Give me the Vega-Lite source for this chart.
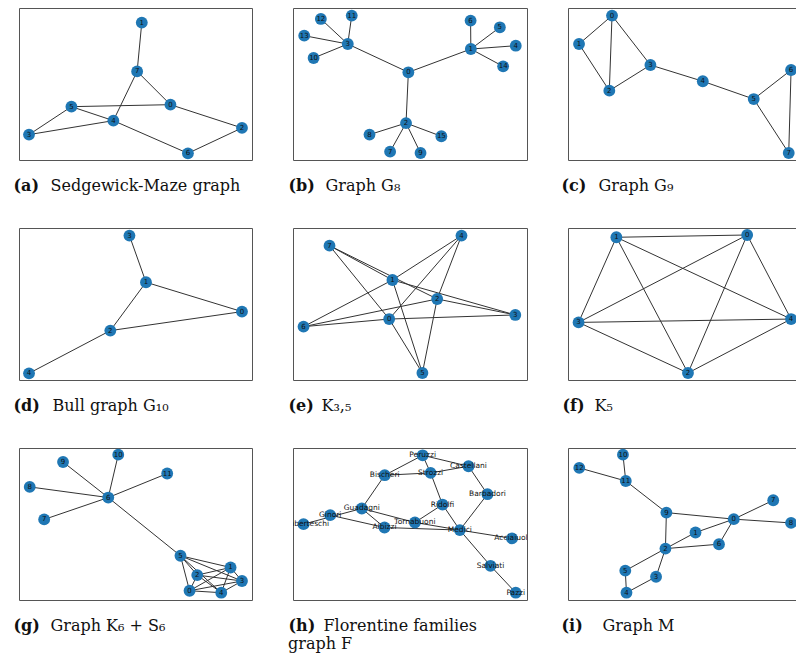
{
  "$schema": "https://vega.github.io/schema/vega-lite/v6.json",
  "background": "white",
  "padding": {"left": 12, "top": 7, "right": 0, "bottom": 0},
  "bounds": "flush",
  "columns": 3,
  "spacing": {"row": 68, "column": 41},
  "datasets": {
    "a_nodes": [
      {"id": "0", "x": 65.0, "y": 36.4}, {"id": "1", "x": 52.7, "y": 90.4},
      {"id": "2", "x": 95.7, "y": 21.1}, {"id": "3", "x": 4.3, "y": 16.7},
      {"id": "4", "x": 40.5, "y": 25.9}, {"id": "5", "x": 22.5, "y": 35.1},
      {"id": "6", "x": 72.5, "y": 4.4}, {"id": "7", "x": 50.7, "y": 58.3}
    ],
    "a_edges": [
      {"s": "1", "t": "7"}, {"s": "7", "t": "0"}, {"s": "7", "t": "4"}, {"s": "0", "t": "5"},
      {"s": "0", "t": "2"}, {"s": "5", "t": "4"}, {"s": "5", "t": "3"}, {"s": "3", "t": "4"},
      {"s": "4", "t": "6"}, {"s": "6", "t": "2"}
    ],
    "b_nodes": [
      {"id": "0", "x": 49.3, "y": 57.7}, {"id": "1", "x": 76.0, "y": 73.0},
      {"id": "2", "x": 48.3, "y": 24.3}, {"id": "3", "x": 23.4, "y": 76.3},
      {"id": "4", "x": 95.2, "y": 75.2}, {"id": "5", "x": 88.4, "y": 87.3},
      {"id": "6", "x": 75.9, "y": 91.7}, {"id": "7", "x": 41.5, "y": 5.5},
      {"id": "8", "x": 32.7, "y": 16.7}, {"id": "9", "x": 54.5, "y": 4.6},
      {"id": "10", "x": 8.8, "y": 67.1}, {"id": "11", "x": 25.1, "y": 95.0},
      {"id": "12", "x": 11.9, "y": 92.8}, {"id": "13", "x": 4.8, "y": 81.8},
      {"id": "14", "x": 89.8, "y": 61.6}, {"id": "15", "x": 63.4, "y": 15.6}
    ],
    "b_edges": [
      {"s": "0", "t": "1"}, {"s": "0", "t": "2"}, {"s": "0", "t": "3"},
      {"s": "3", "t": "10"}, {"s": "3", "t": "11"}, {"s": "3", "t": "12"}, {"s": "3", "t": "13"},
      {"s": "1", "t": "4"}, {"s": "1", "t": "5"}, {"s": "1", "t": "6"}, {"s": "1", "t": "14"},
      {"s": "2", "t": "7"}, {"s": "2", "t": "8"}, {"s": "2", "t": "9"}, {"s": "2", "t": "15"}
    ],
    "c_nodes": [
      {"id": "0", "x": 18.75, "y": 95.0}, {"id": "1", "x": 4.7, "y": 76.3},
      {"id": "2", "x": 17.6, "y": 45.6}, {"id": "3", "x": 35.1, "y": 62.5},
      {"id": "4", "x": 57.4, "y": 51.8}, {"id": "5", "x": 79.1, "y": 40.1},
      {"id": "6", "x": 95.0, "y": 59.2}, {"id": "7", "x": 94.0, "y": 4.6}
    ],
    "c_edges": [
      {"s": "0", "t": "1"}, {"s": "0", "t": "2"}, {"s": "1", "t": "2"}, {"s": "0", "t": "3"},
      {"s": "2", "t": "3"}, {"s": "3", "t": "4"}, {"s": "4", "t": "5"}, {"s": "5", "t": "6"},
      {"s": "5", "t": "7"}, {"s": "6", "t": "7"}
    ],
    "d_nodes": [
      {"id": "0", "x": 95.7, "y": 45.0}, {"id": "1", "x": 54.5, "y": 64.3},
      {"id": "2", "x": 39.2, "y": 32.5}, {"id": "3", "x": 47.4, "y": 95.0},
      {"id": "4", "x": 4.3, "y": 4.4}
    ],
    "d_edges": [
      {"s": "3", "t": "1"}, {"s": "1", "t": "0"}, {"s": "1", "t": "2"}, {"s": "2", "t": "0"},
      {"s": "2", "t": "4"}
    ],
    "e_nodes": [
      {"id": "0", "x": 41.1, "y": 40.1}, {"id": "1", "x": 42.5, "y": 65.8},
      {"id": "2", "x": 61.6, "y": 53.3}, {"id": "3", "x": 95.0, "y": 42.8},
      {"id": "4", "x": 72.0, "y": 95.0}, {"id": "5", "x": 55.3, "y": 4.6},
      {"id": "6", "x": 4.5, "y": 35.1}, {"id": "7", "x": 15.6, "y": 88.4}
    ],
    "e_edges": [
      {"s": "0", "t": "3"}, {"s": "0", "t": "4"}, {"s": "0", "t": "5"}, {"s": "0", "t": "6"}, {"s": "0", "t": "7"},
      {"s": "1", "t": "3"}, {"s": "1", "t": "4"}, {"s": "1", "t": "5"}, {"s": "1", "t": "6"}, {"s": "1", "t": "7"},
      {"s": "2", "t": "3"}, {"s": "2", "t": "4"}, {"s": "2", "t": "5"}, {"s": "2", "t": "6"}, {"s": "2", "t": "7"}
    ],
    "f_nodes": [
      {"id": "0", "x": 76.3, "y": 95.4}, {"id": "1", "x": 20.6, "y": 93.9},
      {"id": "2", "x": 51.1, "y": 4.6}, {"id": "3", "x": 4.5, "y": 37.9},
      {"id": "4", "x": 95.0, "y": 40.1}
    ],
    "f_edges": [
      {"s": "0", "t": "1"}, {"s": "0", "t": "2"}, {"s": "0", "t": "3"}, {"s": "0", "t": "4"},
      {"s": "1", "t": "2"}, {"s": "1", "t": "3"}, {"s": "1", "t": "4"},
      {"s": "2", "t": "3"}, {"s": "2", "t": "4"}, {"s": "3", "t": "4"}
    ],
    "g_nodes": [
      {"id": "0", "x": 73.2, "y": 6.1}, {"id": "1", "x": 90.8, "y": 21.4},
      {"id": "2", "x": 76.5, "y": 16.4}, {"id": "3", "x": 95.7, "y": 12.5},
      {"id": "4", "x": 86.8, "y": 4.8}, {"id": "5", "x": 69.3, "y": 29.1},
      {"id": "6", "x": 38.3, "y": 67.4}, {"id": "7", "x": 10.8, "y": 53.0},
      {"id": "8", "x": 4.6, "y": 74.4}, {"id": "9", "x": 18.9, "y": 90.8},
      {"id": "10", "x": 42.6, "y": 95.6}, {"id": "11", "x": 63.6, "y": 83.2}
    ],
    "g_edges": [
      {"s": "6", "t": "5"}, {"s": "6", "t": "7"}, {"s": "6", "t": "8"}, {"s": "6", "t": "9"},
      {"s": "6", "t": "10"}, {"s": "6", "t": "11"},
      {"s": "0", "t": "1"}, {"s": "0", "t": "2"}, {"s": "0", "t": "3"}, {"s": "0", "t": "4"}, {"s": "0", "t": "5"},
      {"s": "1", "t": "2"}, {"s": "1", "t": "3"}, {"s": "1", "t": "4"}, {"s": "1", "t": "5"},
      {"s": "2", "t": "3"}, {"s": "2", "t": "4"}, {"s": "2", "t": "5"},
      {"s": "3", "t": "4"}, {"s": "3", "t": "5"}, {"s": "4", "t": "5"}
    ],
    "h_nodes": [
      {"id": "Peruzzi", "x": 55.4, "y": 95.2}, {"id": "Castellani", "x": 75.0, "y": 88.0},
      {"id": "Bischeri", "x": 39.2, "y": 82.1}, {"id": "Strozzi", "x": 58.8, "y": 83.6},
      {"id": "Barbadori", "x": 83.1, "y": 69.6}, {"id": "Ridolfi", "x": 63.9, "y": 62.8},
      {"id": "Guadagni", "x": 29.4, "y": 60.2}, {"id": "Ginori", "x": 15.9, "y": 55.8},
      {"id": "Lamberteschi", "x": 4.5, "y": 49.9}, {"id": "Tornabuoni", "x": 52.1, "y": 51.0},
      {"id": "Albizzi", "x": 39.1, "y": 47.7}, {"id": "Medici", "x": 71.3, "y": 46.0},
      {"id": "Acciaiuoli", "x": 93.6, "y": 40.5}, {"id": "Salviati", "x": 84.4, "y": 22.5},
      {"id": "Pazzi", "x": 95.2, "y": 4.8}
    ],
    "h_edges": [
      {"s": "Acciaiuoli", "t": "Medici"}, {"s": "Castellani", "t": "Peruzzi"},
      {"s": "Castellani", "t": "Strozzi"}, {"s": "Castellani", "t": "Barbadori"},
      {"s": "Medici", "t": "Barbadori"}, {"s": "Medici", "t": "Ridolfi"},
      {"s": "Medici", "t": "Tornabuoni"}, {"s": "Medici", "t": "Albizzi"},
      {"s": "Medici", "t": "Salviati"}, {"s": "Salviati", "t": "Pazzi"},
      {"s": "Peruzzi", "t": "Strozzi"}, {"s": "Peruzzi", "t": "Bischeri"},
      {"s": "Strozzi", "t": "Ridolfi"}, {"s": "Strozzi", "t": "Bischeri"},
      {"s": "Ridolfi", "t": "Tornabuoni"}, {"s": "Tornabuoni", "t": "Guadagni"},
      {"s": "Albizzi", "t": "Ginori"}, {"s": "Albizzi", "t": "Guadagni"},
      {"s": "Bischeri", "t": "Guadagni"}, {"s": "Guadagni", "t": "Lamberteschi"}
    ],
    "i_nodes": [
      {"id": "0", "x": 70.6, "y": 53.2}, {"id": "1", "x": 54.3, "y": 44.4},
      {"id": "2", "x": 41.5, "y": 33.8}, {"id": "3", "x": 37.5, "y": 15.3},
      {"id": "4", "x": 24.9, "y": 4.8}, {"id": "5", "x": 24.4, "y": 19.3},
      {"id": "6", "x": 64.3, "y": 36.7}, {"id": "7", "x": 87.4, "y": 65.6},
      {"id": "8", "x": 95.0, "y": 50.7}, {"id": "9", "x": 41.9, "y": 57.5},
      {"id": "10", "x": 23.4, "y": 95.6}, {"id": "11", "x": 24.6, "y": 78.3},
      {"id": "12", "x": 4.8, "y": 86.9}
    ],
    "i_edges": [
      {"s": "10", "t": "11"}, {"s": "12", "t": "11"}, {"s": "11", "t": "9"}, {"s": "9", "t": "0"},
      {"s": "9", "t": "2"}, {"s": "0", "t": "7"}, {"s": "0", "t": "8"}, {"s": "0", "t": "1"},
      {"s": "0", "t": "6"}, {"s": "1", "t": "2"}, {"s": "2", "t": "6"}, {"s": "2", "t": "5"},
      {"s": "2", "t": "3"}, {"s": "3", "t": "4"}, {"s": "4", "t": "5"}
    ]
  },
  "concat": [
    {
      "width": 233, "height": 152,
      "encoding": {
        "x": {"field": "x", "type": "quantitative", "scale": {"domain": [0, 100]}, "axis": {"title": "(a)"}},
        "y": {"field": "y", "type": "quantitative", "scale": {"domain": [0, 100]}, "axis": {"title": "Sedgewick-Maze graph", "titleX": 31}}
      },
      "layer": [
        {
          "data": {"name": "a_edges"},
          "transform": [
            {"lookup": "s", "from": {"data": {"name": "a_nodes"}, "key": "id", "fields": ["x", "y"]}},
            {"lookup": "t", "from": {"data": {"name": "a_nodes"}, "key": "id", "fields": ["x", "y"]}, "as": ["x2v", "y2v"]}
          ],
          "mark": {"type": "rule", "color": "#333333", "strokeWidth": 1},
          "encoding": {"x2": {"field": "x2v"}, "y2": {"field": "y2v"}}
        },
        {"data": {"name": "a_nodes"}, "mark": {"type": "circle", "size": 140, "color": "#1f77b4", "opacity": 1}},
        {"data": {"name": "a_nodes"}, "mark": {"type": "text", "fontSize": 7, "font": "DejaVu Sans", "color": "#111"}, "encoding": {"text": {"field": "id"}}}
      ]
    },
    {
      "width": 234, "height": 152,
      "encoding": {
        "x": {"field": "x", "type": "quantitative", "scale": {"domain": [0, 100]}, "axis": {"title": "(b)", "titleX": -5}},
        "y": {"field": "y", "type": "quantitative", "scale": {"domain": [0, 100]}, "axis": {"title": "Graph G₈", "titleX": 32}}
      },
      "layer": [
        {
          "data": {"name": "b_edges"},
          "transform": [
            {"lookup": "s", "from": {"data": {"name": "b_nodes"}, "key": "id", "fields": ["x", "y"]}},
            {"lookup": "t", "from": {"data": {"name": "b_nodes"}, "key": "id", "fields": ["x", "y"]}, "as": ["x2v", "y2v"]}
          ],
          "mark": {"type": "rule", "color": "#333333", "strokeWidth": 1},
          "encoding": {"x2": {"field": "x2v"}, "y2": {"field": "y2v"}}
        },
        {"data": {"name": "b_nodes"}, "mark": {"type": "circle", "size": 140, "color": "#1f77b4", "opacity": 1}},
        {"data": {"name": "b_nodes"}, "mark": {"type": "text", "fontSize": 7, "font": "DejaVu Sans", "color": "#111"}, "encoding": {"text": {"field": "id"}}}
      ]
    },
    {
      "width": 228, "height": 152,
      "encoding": {
        "x": {"field": "x", "type": "quantitative", "scale": {"domain": [0, 97.1]}, "axis": {"title": "(c)", "titleX": -7}},
        "y": {"field": "y", "type": "quantitative", "scale": {"domain": [0, 100]}, "axis": {"title": "Graph G₉", "titleX": 30}}
      },
      "layer": [
        {
          "data": {"name": "c_edges"},
          "transform": [
            {"lookup": "s", "from": {"data": {"name": "c_nodes"}, "key": "id", "fields": ["x", "y"]}},
            {"lookup": "t", "from": {"data": {"name": "c_nodes"}, "key": "id", "fields": ["x", "y"]}, "as": ["x2v", "y2v"]}
          ],
          "mark": {"type": "rule", "color": "#333333", "strokeWidth": 1, "clip": true},
          "encoding": {"x2": {"field": "x2v"}, "y2": {"field": "y2v"}}
        },
        {"data": {"name": "c_nodes"}, "mark": {"type": "circle", "size": 140, "color": "#1f77b4", "opacity": 1, "clip": true}},
        {"data": {"name": "c_nodes"}, "mark": {"type": "text", "fontSize": 7, "font": "DejaVu Sans", "color": "#111", "clip": true}, "encoding": {"text": {"field": "id"}}}
      ]
    },
    {
      "width": 233, "height": 152,
      "encoding": {
        "x": {"field": "x", "type": "quantitative", "scale": {"domain": [0, 100]}, "axis": {"title": "(d)"}},
        "y": {"field": "y", "type": "quantitative", "scale": {"domain": [0, 100]}, "axis": {"title": "Bull graph G₁₀", "titleX": 33}}
      },
      "layer": [
        {
          "data": {"name": "d_edges"},
          "transform": [
            {"lookup": "s", "from": {"data": {"name": "d_nodes"}, "key": "id", "fields": ["x", "y"]}},
            {"lookup": "t", "from": {"data": {"name": "d_nodes"}, "key": "id", "fields": ["x", "y"]}, "as": ["x2v", "y2v"]}
          ],
          "mark": {"type": "rule", "color": "#333333", "strokeWidth": 1},
          "encoding": {"x2": {"field": "x2v"}, "y2": {"field": "y2v"}}
        },
        {"data": {"name": "d_nodes"}, "mark": {"type": "circle", "size": 140, "color": "#1f77b4", "opacity": 1}},
        {"data": {"name": "d_nodes"}, "mark": {"type": "text", "fontSize": 7, "font": "DejaVu Sans", "color": "#111"}, "encoding": {"text": {"field": "id"}}}
      ]
    },
    {
      "width": 234, "height": 152,
      "encoding": {
        "x": {"field": "x", "type": "quantitative", "scale": {"domain": [0, 100]}, "axis": {"title": "(e)", "titleX": -5}},
        "y": {"field": "y", "type": "quantitative", "scale": {"domain": [0, 100]}, "axis": {"title": "K₃,₅", "titleX": 28}}
      },
      "layer": [
        {
          "data": {"name": "e_edges"},
          "transform": [
            {"lookup": "s", "from": {"data": {"name": "e_nodes"}, "key": "id", "fields": ["x", "y"]}},
            {"lookup": "t", "from": {"data": {"name": "e_nodes"}, "key": "id", "fields": ["x", "y"]}, "as": ["x2v", "y2v"]}
          ],
          "mark": {"type": "rule", "color": "#333333", "strokeWidth": 1},
          "encoding": {"x2": {"field": "x2v"}, "y2": {"field": "y2v"}}
        },
        {"data": {"name": "e_nodes"}, "mark": {"type": "circle", "size": 140, "color": "#1f77b4", "opacity": 1}},
        {"data": {"name": "e_nodes"}, "mark": {"type": "text", "fontSize": 7, "font": "DejaVu Sans", "color": "#111"}, "encoding": {"text": {"field": "id"}}}
      ]
    },
    {
      "width": 228, "height": 152,
      "encoding": {
        "x": {"field": "x", "type": "quantitative", "scale": {"domain": [0, 97.1]}, "axis": {"title": "(f)"}},
        "y": {"field": "y", "type": "quantitative", "scale": {"domain": [0, 100]}, "axis": {"title": "K₅", "titleX": 26}}
      },
      "layer": [
        {
          "data": {"name": "f_edges"},
          "transform": [
            {"lookup": "s", "from": {"data": {"name": "f_nodes"}, "key": "id", "fields": ["x", "y"]}},
            {"lookup": "t", "from": {"data": {"name": "f_nodes"}, "key": "id", "fields": ["x", "y"]}, "as": ["x2v", "y2v"]}
          ],
          "mark": {"type": "rule", "color": "#333333", "strokeWidth": 1, "clip": true},
          "encoding": {"x2": {"field": "x2v"}, "y2": {"field": "y2v"}}
        },
        {"data": {"name": "f_nodes"}, "mark": {"type": "circle", "size": 140, "color": "#1f77b4", "opacity": 1, "clip": true}},
        {"data": {"name": "f_nodes"}, "mark": {"type": "text", "fontSize": 7, "font": "DejaVu Sans", "color": "#111", "clip": true}, "encoding": {"text": {"field": "id"}}}
      ]
    },
    {
      "width": 233, "height": 152,
      "encoding": {
        "x": {"field": "x", "type": "quantitative", "scale": {"domain": [0, 100]}, "axis": {"title": "(g)"}},
        "y": {"field": "y", "type": "quantitative", "scale": {"domain": [0, 100]}, "axis": {"title": "Graph K₆ + S₆", "titleX": 31}}
      },
      "layer": [
        {
          "data": {"name": "g_edges"},
          "transform": [
            {"lookup": "s", "from": {"data": {"name": "g_nodes"}, "key": "id", "fields": ["x", "y"]}},
            {"lookup": "t", "from": {"data": {"name": "g_nodes"}, "key": "id", "fields": ["x", "y"]}, "as": ["x2v", "y2v"]}
          ],
          "mark": {"type": "rule", "color": "#333333", "strokeWidth": 1},
          "encoding": {"x2": {"field": "x2v"}, "y2": {"field": "y2v"}}
        },
        {"data": {"name": "g_nodes"}, "mark": {"type": "circle", "size": 140, "color": "#1f77b4", "opacity": 1}},
        {"data": {"name": "g_nodes"}, "mark": {"type": "text", "fontSize": 7, "font": "DejaVu Sans", "color": "#111"}, "encoding": {"text": {"field": "id"}}}
      ]
    },
    {
      "width": 234, "height": 152,
      "title": {"text": "graph F", "orient": "bottom", "anchor": "start", "frame": "group", "dx": -5, "offset": 3, "baseline": "top", "font": "DejaVu Serif", "fontSize": 16, "fontWeight": "normal", "color": "#111"},
      "encoding": {
        "x": {"field": "x", "type": "quantitative", "scale": {"domain": [0, 100]}, "axis": {"title": "(h)", "titleX": -5}},
        "y": {"field": "y", "type": "quantitative", "scale": {"domain": [0, 100]}, "axis": {"title": "Florentine families", "titleX": 30}}
      },
      "layer": [
        {
          "data": {"name": "h_edges"},
          "transform": [
            {"lookup": "s", "from": {"data": {"name": "h_nodes"}, "key": "id", "fields": ["x", "y"]}},
            {"lookup": "t", "from": {"data": {"name": "h_nodes"}, "key": "id", "fields": ["x", "y"]}, "as": ["x2v", "y2v"]}
          ],
          "mark": {"type": "rule", "color": "#333333", "strokeWidth": 1},
          "encoding": {"x2": {"field": "x2v"}, "y2": {"field": "y2v"}}
        },
        {"data": {"name": "h_nodes"}, "mark": {"type": "circle", "size": 140, "color": "#1f77b4", "opacity": 1}},
        {"data": {"name": "h_nodes"}, "mark": {"type": "text", "fontSize": 7.5, "font": "DejaVu Sans", "color": "#111", "clip": true}, "encoding": {"text": {"field": "id"}}}
      ]
    },
    {
      "width": 228, "height": 152,
      "encoding": {
        "x": {"field": "x", "type": "quantitative", "scale": {"domain": [0, 97.1]}, "axis": {"title": "(i)", "titleX": -7}},
        "y": {"field": "y", "type": "quantitative", "scale": {"domain": [0, 100]}, "axis": {"title": "Graph M", "titleX": 34}}
      },
      "layer": [
        {
          "data": {"name": "i_edges"},
          "transform": [
            {"lookup": "s", "from": {"data": {"name": "i_nodes"}, "key": "id", "fields": ["x", "y"]}},
            {"lookup": "t", "from": {"data": {"name": "i_nodes"}, "key": "id", "fields": ["x", "y"]}, "as": ["x2v", "y2v"]}
          ],
          "mark": {"type": "rule", "color": "#333333", "strokeWidth": 1, "clip": true},
          "encoding": {"x2": {"field": "x2v"}, "y2": {"field": "y2v"}}
        },
        {"data": {"name": "i_nodes"}, "mark": {"type": "circle", "size": 140, "color": "#1f77b4", "opacity": 1, "clip": true}},
        {"data": {"name": "i_nodes"}, "mark": {"type": "text", "fontSize": 7, "font": "DejaVu Sans", "color": "#111", "clip": true}, "encoding": {"text": {"field": "id"}}}
      ]
    }
  ],
  "config": {
    "view": {"stroke": "#555555", "strokeWidth": 1},
    "axis": {
      "domain": false, "ticks": false, "labels": false, "grid": false,
      "titleFont": "DejaVu Serif", "titleFontSize": 16, "titleColor": "#111111", "titlePadding": 0
    },
    "axisX": {"titleFontWeight": "bold", "titleX": -6, "titleY": 30, "titleAlign": "left", "titleBaseline": "alphabetic", "titleAnchor": "start"},
    "axisY": {"titleFontWeight": "normal", "titleAngle": 0, "titleY": 182, "titleAlign": "left", "titleBaseline": "alphabetic", "titleAnchor": "start"}
  }
}
